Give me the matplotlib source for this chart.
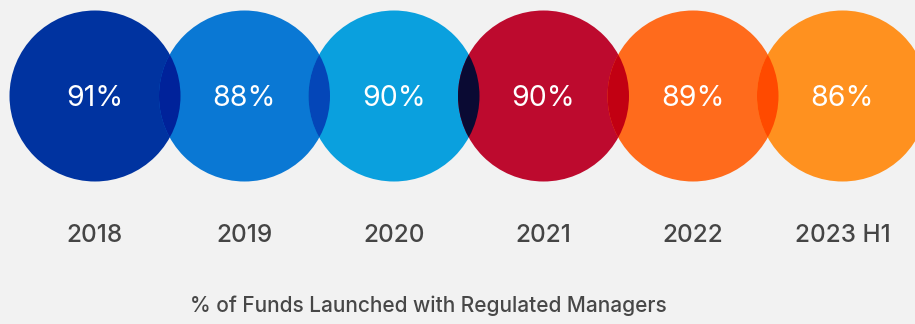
import matplotlib.pyplot as plt
from matplotlib.patches import Circle

YEARS = ['2018', '2019', '2020', '2021', '2022', '2023 H1']
VALUES = [91, 88, 90, 90, 89, 86]
COLORS = ['#0033a0', '#0a78d4', '#0aa0de', '#bd0a2e', '#ff6b1c', '#ff911f']
# darker tint where two neighbouring circles overlap
OVERLAP = ['#00229a', '#0446b8', '#0a0a33', '#c20012', '#ff4a00']
TITLE = '% of Funds Launched with Regulated Managers'

X0 = 95
STEP = 149.5
CY = 96
R = 85.5
BG = '#f2f2f2'

fig = plt.figure(figsize=(9.15, 3.24), dpi=100, facecolor=BG)
ax = fig.add_axes([0, 0, 1, 1])
ax.set_facecolor(BG)
ax.set_xlim(0, 915)
ax.set_ylim(324, 0)
ax.set_aspect('equal')
ax.axis('off')

circles = []
for i, (yr, v, c) in enumerate(zip(YEARS, VALUES, COLORS)):
    cx = X0 + i * STEP
    circ = Circle((cx, CY), R, facecolor=c, edgecolor='none', zorder=2)
    ax.add_patch(circ)
    circles.append(circ)
    ax.text(cx, CY + 2.5, f'{v}%', color='white', fontsize=20.5, family='Inter',
            ha='center', va='center', zorder=5)
    ax.text(cx, 236, yr, color='#454545', fontsize=17.5, family='Inter',
            fontweight='medium', ha='center', va='center')

for i, c in enumerate(OVERLAP):
    cx = X0 + (i + 1) * STEP
    lens = Circle((cx, CY), R, facecolor=c, edgecolor='none', zorder=3)
    ax.add_patch(lens)
    lens.set_clip_path(circles[i])

ax.text(428, 306, TITLE, color='#474747', fontsize=15, family='Inter',
        fontweight='medium', ha='center', va='center')

fig.savefig('out.png', dpi=100, facecolor=BG)
